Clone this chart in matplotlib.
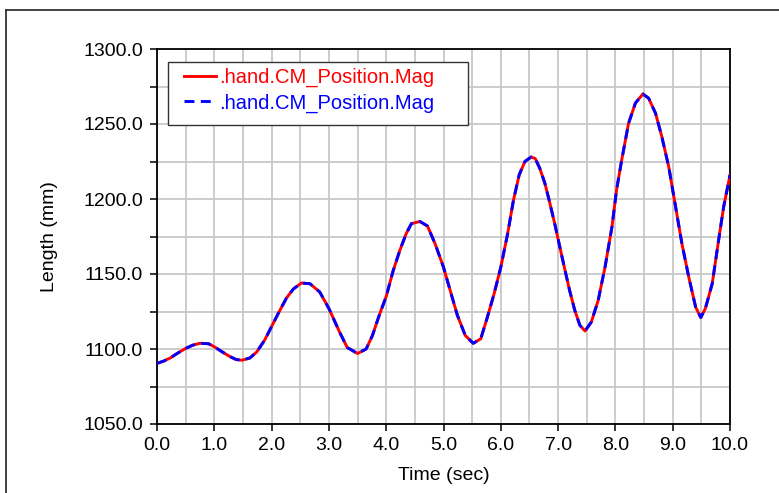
import matplotlib
matplotlib.use("Agg")
import matplotlib.pyplot as plt
from matplotlib.lines import Line2D
from matplotlib.patches import Rectangle
from matplotlib.ticker import FixedLocator

plt.rcParams['font.family'] = ['Liberation Sans', 'DejaVu Sans']

# Time (sec) and magnitude (mm)
time_s = [0.0, 0.12, 0.23, 0.35, 0.5, 0.62, 0.75, 0.9, 1.0, 1.12, 1.27, 1.38, 1.48,
          1.62, 1.74, 1.88, 2.0, 2.12, 2.26, 2.38, 2.52, 2.67, 2.84, 3.0, 3.19,
          3.32, 3.5, 3.65, 3.76, 3.88, 4.0, 4.12, 4.24, 4.35, 4.44, 4.59, 4.72,
          4.85, 5.0, 5.12, 5.24, 5.38, 5.52, 5.65, 5.76, 5.88, 6.0, 6.12, 6.22,
          6.32, 6.42, 6.53, 6.6, 6.68, 6.77, 6.85, 6.94, 7.03, 7.12, 7.2, 7.29,
          7.38, 7.47, 7.58, 7.7, 7.82, 7.94, 8.02, 8.11, 8.23, 8.35, 8.48, 8.58,
          8.7, 8.81, 8.93, 9.05, 9.16, 9.28, 9.4, 9.49, 9.57, 9.69, 9.81, 9.89,
          10.0]
length_mm = [1090.4, 1092.0, 1094.0, 1097.0, 1100.4, 1102.5, 1103.8, 1103.5, 1101.5,
             1098.5, 1095.0, 1093.0, 1092.5, 1094.0, 1098.0, 1106.0, 1115.0, 1124.0,
             1134.0, 1140.0, 1144.0, 1143.5, 1138.0, 1127.0, 1111.0, 1101.0, 1097.0,
             1100.0, 1109.0, 1122.7, 1135.0, 1152.0, 1166.0, 1177.0, 1183.6, 1185.0,
             1182.0, 1170.5, 1154.5, 1138.6, 1122.7, 1109.0, 1103.8, 1106.8, 1120.5,
             1136.4, 1154.5, 1177.0, 1199.0, 1216.0, 1225.0, 1228.0, 1227.0, 1220.5,
             1210.4, 1198.2, 1183.7, 1168.0, 1152.6, 1139.2, 1125.9, 1115.8, 1112.0,
             1118.0, 1132.5, 1154.8, 1181.5, 1206.0, 1226.0, 1250.5, 1264.0, 1270.0,
             1267.2, 1257.2, 1241.6, 1221.6, 1194.9, 1170.4, 1148.0, 1128.0, 1121.0,
             1127.0, 1143.6, 1174.8, 1194.9, 1216.0]

series_labels = [".hand.CM_Position.Mag", ".hand.CM_Position.Mag"]
x_ticks = [0.0, 1.0, 2.0, 3.0, 4.0, 5.0, 6.0, 7.0, 8.0, 9.0, 10.0]
y_ticks = [1050.0, 1100.0, 1150.0, 1200.0, 1250.0, 1300.0]

W, H = 779, 493
fig = plt.figure(figsize=(W / 100, H / 100), dpi=100)
ax = fig.add_axes([157 / W, 1 - 424 / H, (730 - 157) / W, (424 - 49) / H])

# outer frame (partial box)
fig.add_artist(Line2D([6 / W, 6 / W], [0, 1 - 10 / H], transform=fig.transFigure,
                      color='#333333', lw=1.3))
fig.add_artist(Line2D([6 / W, 1.0], [1 - 10 / H, 1 - 10 / H], transform=fig.transFigure,
                      color='#333333', lw=1.3))

l1, = ax.plot(time_s, length_mm, color='#ff0000', lw=2.1, label=series_labels[0], zorder=3)
l2, = ax.plot(time_s, length_mm, color='#0000ff', lw=2.1, ls=(0, (3.4, 2.2)),
              label=series_labels[1], zorder=4)

ax.set_xlim(0, 10)
ax.set_ylim(1050, 1300)

# grid every 0.5 s and 25 mm
ax.xaxis.set_minor_locator(FixedLocator([0.5 * i for i in range(21)]))
ax.yaxis.set_minor_locator(FixedLocator([1050 + 25 * i for i in range(11)]))
ax.set_xticks(x_ticks)
ax.set_yticks(y_ticks)
ax.set_xticklabels([f"{v:.1f}" for v in x_ticks])
ax.set_yticklabels([f"{v:.1f}" for v in y_ticks])
ax.grid(True, which='both', color='#c8c8c8', lw=1.3)
ax.set_axisbelow(True)
ax.tick_params(axis='x', which='minor', length=0)
ax.tick_params(axis='y', which='minor', length=5, width=1.1, color='black', direction='out')
ax.tick_params(axis='both', which='major', length=5, width=1.1, color='black',
               direction='out', labelsize=14)
ax.tick_params(axis='y', which='major', pad=5)
ax.tick_params(axis='x', which='major', pad=4)
for s in ax.spines.values():
    s.set_color('black')
    s.set_linewidth(1.3)

ax.set_xlabel('Time (sec)', fontsize=14, labelpad=10)
ax.set_ylabel('Length (mm)', fontsize=14, labelpad=18)

# legend box drawn in figure pixels
fig.add_artist(Rectangle((168 / W, 1 - 125 / H), (468 - 168) / W, (125 - 62) / H,
                         transform=fig.transFigure, facecolor='white',
                         edgecolor='#333333', lw=1.0, zorder=5))
leg = fig.legend(handles=[l1, l2], loc='upper left', bbox_to_anchor=(184 / W, 1 - 68 / H),
                 fontsize=14.5, frameon=False, handlelength=1.6, handletextpad=0.15,
                 borderpad=0.0, labelspacing=0.3, borderaxespad=0)
leg.set_zorder(6)
for txt, c in zip(leg.get_texts(), ['#ff0000', '#0000ff']):
    txt.set_color(c)

fig.savefig('out.png', dpi=100)
